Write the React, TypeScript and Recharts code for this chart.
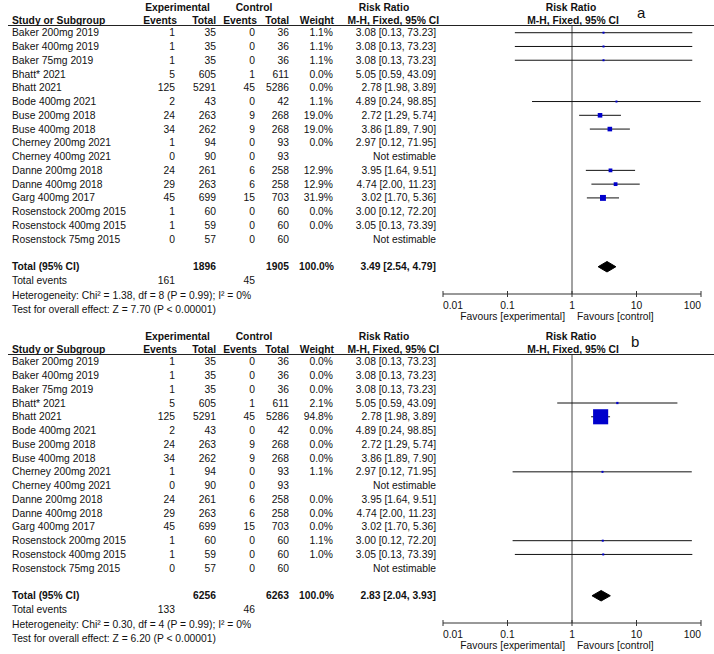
import React from 'react'
import { ComposedChart, XAxis, YAxis, Scatter, Area, ReferenceLine, Customized } from 'recharts'

const studies = [
  'Baker 200mg 2019', 'Baker 400mg 2019', 'Baker 75mg 2019', 'Bhatt* 2021', 'Bhatt 2021',
  'Bode 400mg 2021', 'Buse 200mg 2018', 'Buse 400mg 2018', 'Cherney 200mg 2021', 'Cherney 400mg 2021',
  'Danne 200mg 2018', 'Danne 400mg 2018', 'Garg 400mg 2017', 'Rosenstock 200mg 2015',
  'Rosenstock 400mg 2015', 'Rosenstock 75mg 2015',
]
const expEvents = [1, 1, 1, 5, 125, 2, 24, 34, 1, 0, 24, 29, 45, 1, 1, 0]
const expTotal = [35, 35, 35, 605, 5291, 43, 263, 262, 94, 90, 261, 263, 699, 60, 59, 57]
const ctrlEvents = [0, 0, 0, 1, 45, 0, 9, 9, 0, 0, 6, 6, 15, 0, 0, 0]
const ctrlTotal = [36, 36, 36, 611, 5286, 42, 268, 268, 93, 93, 258, 258, 703, 60, 60, 60]
const riskRatio = [3.08, 3.08, 3.08, 5.05, 2.78, 4.89, 2.72, 3.86, 2.97, null, 3.95, 4.74, 3.02, 3.0, 3.05, null]
const ciLow = [0.13, 0.13, 0.13, 0.59, 1.98, 0.24, 1.29, 1.89, 0.12, null, 1.64, 2.0, 1.7, 0.12, 0.13, null]
const ciHigh = [73.23, 73.23, 73.23, 43.09, 3.89, 98.85, 5.74, 7.9, 71.95, null, 9.51, 11.23, 5.36, 72.2, 73.39, null]

const weightA = [1.1, 1.1, 1.1, 0.0, 0.0, 1.1, 19.0, 19.0, 0.0, null, 12.9, 12.9, 31.9, 0.0, 0.0, null]
const weightB = [0.0, 0.0, 0.0, 2.1, 94.8, 0.0, 0.0, 0.0, 1.1, null, 0.0, 0.0, 0.0, 1.1, 1.0, null]

// [total exp, total ctrl, exp events, ctrl events]
const totalsA = [1896, 1905, 161, 45]
const totalsB = [6256, 6263, 133, 46]
// [estimate, low, high]
const pooledA = [3.49, 2.54, 4.79]
const pooledB = [2.83, 2.04, 3.93]
const hetA = 'Heterogeneity: Chi² = 1.38, df = 8 (P = 0.99); I² = 0%'
const hetB = 'Heterogeneity: Chi² = 0.30, df = 4 (P = 0.99); I² = 0%'
const testA = 'Test for overall effect: Z = 7.70 (P < 0.00001)'
const testB = 'Test for overall effect: Z = 6.20 (P < 0.00001)'

const xTicks = [0.01, 0.1, 1, 10, 100]
const TOTAL_ROW = 17
const rowTicks = [...studies.map((_, i) => i), 17, 18, 19, 20]

const FONT = "Arial, 'Liberation Sans', sans-serif"
const txt = { fontFamily: FONT, fontSize: 10.3, fill: '#111', dominantBaseline: 'central' as const }
const bold = { ...txt, fontWeight: 700 }

const fmtCI = (v: number, lo: number, hi: number) => `${v.toFixed(2)} [${lo.toFixed(2)}, ${hi.toFixed(2)}]`

interface PanelProps {
  weights: (number | null)[]
  totals: number[]
  pooled: number[]
  het: string
  test: string
  tag: string
  height: number
  boxScale: number
}

function RowTick(props: any) {
  const { y, payload, weights, totals, pooled, het, test } = props
  const i = payload.value
  if (i < studies.length) {
    const w = weights[i]
    const r = riskRatio[i]
    return (
      <g>
        <text x={12} y={y} {...txt}>{studies[i]}</text>
        <text x={175} y={y} textAnchor="end" {...txt}>{expEvents[i]}</text>
        <text x={216} y={y} textAnchor="end" {...txt}>{expTotal[i]}</text>
        <text x={255} y={y} textAnchor="end" {...txt}>{ctrlEvents[i]}</text>
        <text x={289} y={y} textAnchor="end" {...txt}>{ctrlTotal[i]}</text>
        <text x={333} y={y} textAnchor="end" {...txt}>{w == null ? '' : `${w.toFixed(1)}%`}</text>
        <text x={436} y={y} textAnchor="end" {...txt}>
          {r == null ? 'Not estimable' : fmtCI(r, ciLow[i] as number, ciHigh[i] as number)}
        </text>
      </g>
    )
  }
  if (i === TOTAL_ROW) {
    return (
      <g>
        <text x={12} y={y} {...bold}>Total (95% CI)</text>
        <text x={216} y={y} textAnchor="end" {...bold}>{totals[0]}</text>
        <text x={289} y={y} textAnchor="end" {...bold}>{totals[1]}</text>
        <text x={334} y={y} textAnchor="end" {...bold}>100.0%</text>
        <text x={436} y={y} textAnchor="end" {...bold}>{fmtCI(pooled[0], pooled[1], pooled[2])}</text>
      </g>
    )
  }
  if (i === 18) {
    return (
      <g>
        <text x={12} y={y} {...txt}>Total events</text>
        <text x={175} y={y} textAnchor="end" {...txt}>{totals[2]}</text>
        <text x={255} y={y} textAnchor="end" {...txt}>{totals[3]}</text>
      </g>
    )
  }
  if (i === 19) return <text x={12} y={y + 1.5} {...txt}>{het}</text>
  if (i === 20) return <text x={12} y={y + 1.5} {...txt}>{test}</text>
  return <g />
}

function XTick(props: any) {
  const { x, y, payload } = props
  const v = payload.value
  const anchor = v === xTicks[0] ? 'start' : v === xTicks[xTicks.length - 1] ? 'end' : 'middle'
  return (
    <g>
      <line x1={x} x2={x} y1={y - 3} y2={y + 3} stroke="#333" />
      <text x={x} y={y + 11} textAnchor={anchor} {...txt}>{String(v)}</text>
    </g>
  )
}

function Headers({ tag }: { tag: string }) {
  return (
    <g>
      <text x={177.5} y={7} textAnchor="middle" {...bold}>Experimental</text>
      <text x={254} y={7} textAnchor="middle" {...bold}>Control</text>
      <text x={384} y={7} textAnchor="middle" {...bold}>Risk Ratio</text>
      <text x={571} y={7} textAnchor="middle" {...bold}>Risk Ratio</text>
      <text x={12} y={20.5} {...bold}>Study or Subgroup</text>
      <text x={177} y={20.5} textAnchor="end" {...bold}>Events</text>
      <text x={216} y={20.5} textAnchor="end" {...bold}>Total</text>
      <text x={257} y={20.5} textAnchor="end" {...bold}>Events</text>
      <text x={289} y={20.5} textAnchor="end" {...bold}>Total</text>
      <text x={334} y={20.5} textAnchor="end" {...bold}>Weight</text>
      <text x={439} y={20.5} textAnchor="end" {...bold}>M-H, Fixed, 95% CI</text>
      <text x={573} y={20.5} textAnchor="middle" {...bold}>M-H, Fixed, 95% CI</text>
      <line x1={8} x2={714} y1={25.5} y2={25.5} stroke="#222" />
      <text x={tag === 'a' ? 637 : 631} y={18} fontFamily={FONT} fontSize={15} fill="#111">{tag}</text>
      <text x={565} y={316.5} textAnchor="end" {...txt}>Favours [experimental]</text>
      <text x={577} y={316.5} {...txt}>Favours [control]</text>
    </g>
  )
}

function ForestPanel({ weights, totals, pooled, het, test, tag, height, boxScale }: PanelProps) {
  const shown = studies.map((_, i) => i).filter((i) => (weights[i] ?? 0) > 0)
  const points = shown.map((i) => ({ x: riskRatio[i], y: i, w: weights[i] }))
  const diamond = [
    { x: pooled[1], d: [TOTAL_ROW, TOTAL_ROW] },
    { x: pooled[0], d: [TOTAL_ROW - 0.38, TOTAL_ROW + 0.38] },
    { x: pooled[2], d: [TOTAL_ROW, TOTAL_ROW] },
  ]
  return (
    <ComposedChart width={714} height={height} margin={{ top: 26, right: 13, bottom: 0, left: 0 }}>
      <XAxis
        type="number"
        dataKey="x"
        scale="log"
        domain={[0.01, 100]}
        ticks={xTicks}
        interval={0}
        allowDataOverflow
        height={height - 294}
        tickSize={0}
        tickMargin={0}
        tickLine={false}
        axisLine={{ stroke: '#333' }}
        tick={XTick}
      />
      <YAxis
        type="number"
        dataKey="y"
        domain={[-0.487, 18.98]}
        reversed
        allowDataOverflow
        width={443}
        ticks={rowTicks}
        interval={0}
        axisLine={false}
        tickLine={false}
        tick={(p: any) => <RowTick {...p} weights={weights} totals={totals} pooled={pooled} het={het} test={test} />}
      />
      <ReferenceLine x={1} stroke="#444" ifOverflow="visible" />
      {shown.map((i) => (
        <ReferenceLine
          key={i}
          segment={[{ x: ciLow[i] as number, y: i }, { x: ciHigh[i] as number, y: i }]}
          stroke="#111"
          ifOverflow="visible"
        />
      ))}
      <Area
        data={diamond}
        dataKey="d"
        type="linear"
        fill="#000"
        fillOpacity={1}
        stroke="#000"
        dot={false}
        activeDot={false}
        isAnimationActive={false}
      />
      <Scatter
        data={points}
        isAnimationActive={false}
        shape={(p: any) => {
          const s = Math.max(2, boxScale * Math.sqrt(p.payload.w))
          return <rect x={p.cx - s / 2} y={p.cy - s / 2} width={s} height={s} fill="#0000cc" />
        }}
      />
      <Customized component={<Headers tag={tag} />} />
    </ComposedChart>
  )
}

export default function App() {
  return (
    <div style={{ position: 'absolute', left: 0, top: 0, width: 714, height: 654, background: '#fff', overflow: 'hidden' }}>
      <ForestPanel weights={weightA} totals={totalsA} pooled={pooledA} het={hetA} test={testA} tag="a" height={329} boxScale={1.05} />
      <ForestPanel weights={weightB} totals={totalsB} pooled={pooledB} het={hetB} test={testB} tag="b" height={325} boxScale={1.55} />
    </div>
  )
}
